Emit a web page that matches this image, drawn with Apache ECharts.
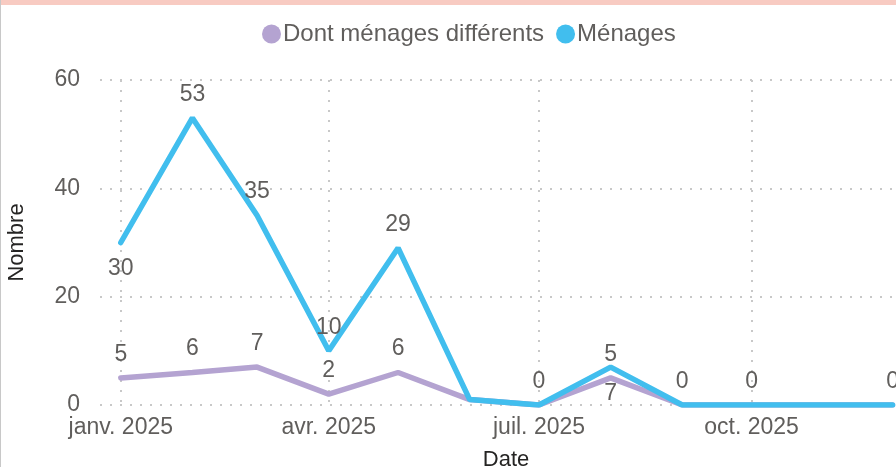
<!DOCTYPE html>
<html>
<head>
<meta charset="utf-8">
<script src="https://cdn.jsdelivr.net/npm/echarts@6/dist/echarts.min.js"></script>
<style>
  html, body { margin: 0; padding: 0; background: #fff; }
  #main { position: absolute; left: 0; top: 0; width: 896px; height: 467px; }
  .topbar { position: absolute; left: 0; top: 0; width: 896px; height: 5px; background: #F8CBC2; z-index: 2; }
  .leftbar { position: absolute; left: 0; top: 0; width: 1px; height: 467px; background: #c8c8c8; z-index: 2; }
</style>
</head>
<body>
<div id="main"></div>
<div class="topbar"></div>
<div class="leftbar"></div>
<script>
// months of 2025 (index 0 = janvier)
const months = [0, 1, 2, 3, 4, 5, 6, 7, 8, 9, 10, 11]
const menages = [30, 53, 35, 10, 29, 1, 0, 7, 0, 0, 0, 0]
const differents = [5, 6, 7, 2, 6, 1, 0, 5, 0, 0, 0, 0]
const tickMonths = [0, 3, 6, 9]
const monthNames = ['janv.', 'févr.', 'mars', 'avr.', 'mai', 'juin', 'juil.', 'août', 'sept.', 'oct.', 'nov.', 'déc.']

// which labels are shown and where
const menagesLabels = ['bottom', 'top', 'top', 'top', 'top', null, 'top', 'bottom', 'top', 'top', null, 'top']
const differentsLabels = ['top', 'top', 'top', 'top', 'top', null, null, 'top', null, null, null, null]

const ts = (m) => new Date(2025, m, 1).getTime()

const buildData = (values, labels) => values.map((v, i) => ({
  value: [ts(months[i]), v],
  label: labels[i]
    ? { show: true, position: labels[i], distance: labels[i] === 'bottom' ? 15 : 12 }
    : { show: false },
}))

const myChart = echarts.init(document.getElementById('main'))
const font = '"Liberation Sans", Arial, sans-serif'
const labelStyle = { fontSize: 23, color: '#605E5C', fontFamily: font }

const option = {
  animation: false,
  textStyle: { fontFamily: font },
  legend: {
    data: ['Dont ménages différents', 'Ménages'],
    left: 257,
    top: 17,
    icon: 'circle',
    itemWidth: 19,
    itemHeight: 19,
    itemGap: 12,
    textStyle: { fontSize: 24, color: '#605E5C', fontFamily: font, padding: [0, 0, 0, -3] },
  },
  grid: { left: 100, right: 0, top: 80, bottom: 62, outerBoundsMode: 'none' },
  xAxis: {
    type: 'value',
    min: new Date(2024, 11, 23).getTime(),
    max: new Date(2025, 11, 2, 12).getTime(),
    name: 'Date',
    nameLocation: 'middle',
    nameGap: 44,
    nameTextStyle: { fontSize: 22, color: '#252423', fontFamily: font, padding: [0, 0, 0, 16] },
    axisLine: { show: false },
    axisTick: { show: false, customValues: tickMonths.map(ts) },
    axisLabel: {
      customValues: tickMonths.map(ts),
      fontSize: 23,
      color: '#605E5C',
      margin: 11,
      formatter: (val) => {
        const d = new Date(val)
        return monthNames[d.getMonth()] + ' ' + d.getFullYear()
      },
    },
    splitLine: { show: true, lineStyle: { color: '#C8C8C8', width: 2, type: [2, 8] } },
  },
  yAxis: {
    type: 'value',
    min: 0,
    max: 60,
    interval: 20,
    name: 'Nombre',
    nameLocation: 'middle',
    nameGap: 72,
    nameTextStyle: { fontSize: 22, color: '#252423', fontFamily: font },
    axisLine: { show: false },
    axisTick: { show: false },
    axisLabel: { fontSize: 23, color: '#605E5C', margin: 20 },
    splitLine: { show: true, lineStyle: { color: '#C8C8C8', width: 2, type: [2, 8] } },
  },
  series: [
    {
      name: 'Dont ménages différents',
      type: 'line',
      data: buildData(differents, differentsLabels),
      symbol: 'circle',
      symbolSize: 0.1,
      color: '#B4A3D1',
      lineStyle: { width: 5.5, cap: 'round' },
      label: labelStyle,
    },
    {
      name: 'Ménages',
      type: 'line',
      data: buildData(menages, menagesLabels),
      symbol: 'circle',
      symbolSize: 0.1,
      color: '#41BEEE',
      lineStyle: { width: 5.5, cap: 'round' },
      label: labelStyle,
    },
  ],
}
myChart.setOption(option)
</script>
</body>
</html>
